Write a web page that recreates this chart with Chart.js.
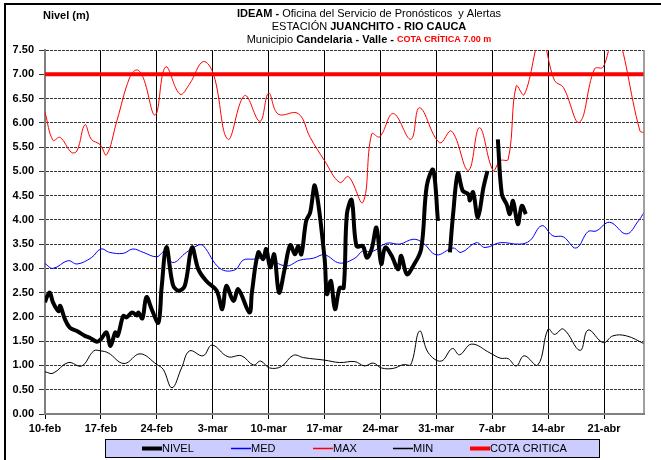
<!DOCTYPE html>
<html>
<head>
<meta charset="utf-8">
<script src="https://cdn.jsdelivr.net/npm/chart.js@4/dist/chart.umd.min.js"></script>
<style>
  html, body { margin: 0; padding: 0; background: #fff; }
  #wrap { width: 661px; height: 460px; }
</style>
</head>
<body>
<div id="wrap"><canvas id="nivel" width="661" height="460"></canvas></div>
<script>
// etiquetas del eje x (una por semana) y su posición en días desde el 10-feb
const tickLabels = ['10-feb', '17-feb', '24-feb', '3-mar', '10-mar', '17-mar', '24-mar', '31-mar', '7-abr', '14-abr', '21-abr'];
const tickDays = [0, 7, 14, 21, 28, 35, 42, 49, 56, 63, 70];
const diaFinal = 75;

// NIVEL observado (null = sin dato)
const nivelDias = [0, 0.2, 0.6, 1, 1.7, 1.9, 2.5, 3.1, 4, 5, 5.6, 6.5, 7, 7.7, 8.2, 8.8, 9.1, 9.8, 10.2, 10.9, 11.5, 11.7, 12.2, 12.7, 13.4, 14.2, 14.6, 15.2, 16, 16.7, 17.5, 18.4, 19.2, 20.2, 21.5, 22.2, 22.7, 23.6, 24.2, 25.6, 25.9, 26.7, 27.3, 27.7, 28.2, 28.7, 29.3, 30, 30.7, 31.3, 31.7, 32.1, 32.7, 33.2, 33.8, 35, 35.3, 35.8, 36.3, 36.9, 37.4, 37.8, 38.4, 39, 39.8, 40.3, 40.9, 41.5, 42.1, 42.6, 43.4, 44.2, 44.6, 45.3, 46.1, 47.1, 47.8, 48.6, 49.2, 50, 50.7, 51.1, 51.7, 52.3, 53, 53.2, 53.6, 54.2, 54.9, 55.4, 56, 56.7, 57.2, 57.8, 58.2, 58.6, 59.2, 59.7, 60.2];
const nivelValores = [2.30, 2.40, 2.50, 2.30, 2.12, 2.23, 1.95, 1.78, 1.71, 1.61, 1.57, 1.49, 1.54, 1.68, 1.40, 1.68, 1.61, 2.02, 1.99, 2.09, 2.03, 2.09, 1.97, 2.41, 2.14, 1.88, 2.60, 3.44, 2.67, 2.54, 2.64, 3.43, 2.98, 2.74, 2.54, 2.16, 2.64, 2.33, 2.57, 2.09, 2.50, 3.33, 3.19, 3.40, 3.02, 3.29, 2.50, 2.98, 3.48, 3.29, 3.46, 3.29, 3.98, 4.15, 4.70, 3.22, 2.47, 2.74, 2.16, 2.60, 2.60, 4.12, 4.41, 3.46, 3.46, 3.22, 3.40, 3.84, 3.09, 3.43, 3.26, 2.98, 3.26, 2.88, 3.05, 3.40, 4.70, 5.03, 3.98, null, 3.33, 4.12, 4.96, 4.60, 4.53, 4.40, 4.57, 4.05, 4.67, 5.01, null, 5.66, 4.53, 4.32, 4.12, 4.39, 3.91, 4.29, 4.12];

// MED
const medDias = [0, 1, 2.9, 4, 5.8, 7, 8.1, 9.8, 11, 12.3, 14, 15, 16, 17.7, 19.2, 19.8, 21.9, 23.8, 24.8, 26.1, 27.7, 30.2, 31.9, 33.6, 35, 36.9, 38.8, 39.8, 40.9, 42.8, 44.4, 46.1, 47.3, 49, 51.1, 52.1, 54, 55.1, 57, 59.4, 60.7, 62.2, 63.6, 64.9, 66.5, 68, 69, 70.7, 72.8, 74.3, 75];
const medValores = [3.10, 3.00, 3.16, 3.09, 3.22, 3.40, 3.33, 3.31, 3.40, 3.33, 3.24, 3.35, 3.12, 3.33, 3.48, 3.47, 3.00, 2.97, 3.17, 3.19, 3.21, 3.05, 3.17, 3.21, 3.28, 3.11, 3.21, 3.36, 3.34, 3.52, 3.50, 3.60, 3.53, 3.28, 3.42, 3.33, 3.53, 3.43, 3.53, 3.50, 3.57, 3.88, 3.67, 3.65, 3.42, 3.76, 3.77, 3.95, 3.71, 3.98, 4.15];

// MAX
const maxDias = [0, 1, 1.9, 3.3, 4, 5, 5.8, 6.9, 7.7, 9, 10.6, 11.5, 12.3, 13.8, 15.1, 16.9, 18.1, 19.8, 21.1, 22.9, 25, 26.9, 28, 29.2, 31.7, 33.2, 35, 36.9, 38, 39.8, 40.9, 41.9, 43.6, 45.8, 46.9, 49.4, 50.9, 53, 54.4, 56.1, 57, 58, 59, 60, 62.1, 63.8, 64.9, 66.9, 68.8, 69.9, 71.4, 74.5, 75];
const maxValores = [6.22, 5.64, 5.70, 5.39, 5.42, 5.96, 5.66, 5.55, 5.34, 6.04, 6.93, 7.09, 6.93, 6.16, 7.15, 6.59, 6.80, 7.26, 7.00, 5.66, 6.56, 6.03, 6.61, 6.18, 6.19, 5.70, 5.22, 4.77, 4.89, 4.36, 5.77, 5.71, 6.19, 5.66, 6.31, 5.59, 5.83, 5.02, 5.90, 5.02, 5.22, 5.25, 6.76, 6.58, 7.75, 6.87, 6.73, 6.01, 7.11, 7.15, 7.90, 5.83, 5.80];

// MIN
const minDias = [0, 1, 2.9, 4.6, 6.1, 7, 7.9, 9.9, 11.9, 14, 14.8, 15.9, 17.1, 18.1, 19.8, 20.9, 22.9, 24.6, 26.1, 27, 28.1, 29.6, 31.1, 32.4, 35, 36.9, 38.8, 40, 41.1, 42.1, 43.6, 44.9, 45.8, 46.9, 48, 49.6, 51, 51.9, 53.4, 55.7, 57, 58, 59, 60, 61.7, 63, 63.8, 64.9, 67, 68, 69.9, 71.1, 72.8, 75];
const minValores = [0.87, 0.84, 1.06, 0.99, 1.30, 1.30, 1.26, 1.04, 1.24, 1.02, 0.92, 0.54, 0.95, 1.30, 1.20, 1.42, 1.18, 1.20, 1.01, 1.09, 0.95, 0.98, 1.21, 1.16, 1.11, 1.06, 1.08, 0.99, 1.05, 0.95, 0.94, 1.02, 1.02, 1.71, 1.26, 1.09, 1.35, 1.22, 1.44, 1.26, 1.15, 1.14, 0.99, 1.20, 1.01, 1.75, 1.64, 1.75, 1.31, 1.73, 1.47, 1.61, 1.61, 1.45];

const cotaCritica = 7.00;

const pts = (dias, vals) => dias.map((x, i) => ({ x: x, y: vals[i] }));
const FONT = "'Liberation Sans', Arial, sans-serif";
Chart.defaults.font.family = FONT;
Chart.defaults.color = '#000';

// fondo + marco exterior
const marco = {
  id: 'marco',
  beforeDraw(chart) {
    const ctx = chart.ctx;
    ctx.save();
    ctx.fillStyle = '#fff';
    ctx.fillRect(0, 0, chart.width, chart.height);
    ctx.strokeStyle = '#000';
    ctx.lineWidth = 2;
    ctx.beginPath();
    ctx.moveTo(chart.width, 4);
    ctx.lineTo(5, 4);
    ctx.lineTo(5, chart.height);
    ctx.stroke();
    ctx.restore();
  }
};

// texto con partes en negrita / rojo, centrado
function runs(ctx, parts, cx, cy) {
  const f = p => (p.b ? 'bold ' : '') + (p.s || 11) + 'px ' + FONT;
  let w = 0;
  parts.forEach(p => { ctx.font = f(p); w += ctx.measureText(p.t).width; });
  let x = cx - w / 2;
  parts.forEach(p => {
    ctx.font = f(p);
    ctx.fillStyle = p.c || '#000';
    ctx.fillText(p.t, x, cy);
    x += ctx.measureText(p.t).width;
  });
}

const titulos = {
  id: 'titulos',
  afterDraw(chart) {
    const ctx = chart.ctx;
    const a = chart.chartArea;
    ctx.save();
    ctx.textBaseline = 'middle';
    ctx.textAlign = 'left';
    runs(ctx, [{ t: 'IDEAM - ', b: true }, { t: 'Oficina del Servicio de Pronósticos  y Alertas' }], 369, 14);
    runs(ctx, [{ t: 'ESTACIÓN ' }, { t: 'JUANCHITO - RIO CAUCA', b: true }], 369, 27);
    runs(ctx, [{ t: 'Municipio ' }, { t: 'Candelaria - Valle - ', b: true }, { t: 'COTA CRÍTICA 7.00 m', b: true, c: '#FF0000', s: 9 }], 369, 40);
    ctx.font = 'bold 11px ' + FONT;
    ctx.fillStyle = '#000';
    ctx.fillText('Nivel (m)', 43, 16);

    // borde derecho del área
    ctx.strokeStyle = '#808080';
    ctx.lineWidth = 1.5;
    ctx.beginPath();
    ctx.moveTo(a.right, a.top);
    ctx.lineTo(a.right, a.bottom);
    ctx.stroke();

    // leyenda
    ctx.fillStyle = '#CCCCFF';
    ctx.fillRect(105, 439, 494, 18);
    ctx.strokeStyle = '#000';
    ctx.lineWidth = 1;
    ctx.strokeRect(105.5, 439.5, 494, 18);
    const xs = [142, 231, 313, 393, 470];
    chart.data.datasets.forEach((ds, i) => {
      const lw = ds.borderWidth;
      ctx.strokeStyle = ds.borderColor;
      ctx.lineWidth = Math.max(lw, 1.5);
      ctx.beginPath();
      ctx.moveTo(xs[i], 448.5);
      ctx.lineTo(xs[i] + 20, 448.5);
      ctx.stroke();
      ctx.fillStyle = '#000';
      ctx.font = '11px ' + FONT;
      ctx.fillText(ds.label, xs[i] + 20, 449);
    });
    ctx.restore();
  }
};

new Chart(document.getElementById('nivel'), {
  type: 'line',
  data: {
    datasets: [
      { label: 'NIVEL', data: pts(nivelDias, nivelValores), borderColor: '#000', borderWidth: 4, tension: 0.35, spanGaps: false },
      { label: 'MED', data: pts(medDias, medValores), borderColor: '#0000FF', borderWidth: 1, tension: 0.4 },
      { label: 'MAX', data: pts(maxDias, maxValores), borderColor: '#FF0000', borderWidth: 1, tension: 0.4 },
      { label: 'MIN', data: pts(minDias, minValores), borderColor: '#000', borderWidth: 1, tension: 0.4 },
      { label: 'COTA CRITICA', data: [{ x: 0, y: cotaCritica }, { x: diaFinal, y: cotaCritica }], borderColor: '#FF0000', borderWidth: 4, tension: 0 }
    ]
  },
  options: {
    responsive: false,
    animation: false,
    devicePixelRatio: 1,
    elements: { point: { radius: 0 } },
    layout: { padding: { top: 50, right: 17, bottom: 16, left: 0 } },
    plugins: { legend: { display: false }, tooltip: { enabled: false } },
    scales: {
      x: {
        type: 'linear',
        min: 0,
        max: diaFinal,
        afterFit: s => { s.height = 30; },
        afterBuildTicks: s => { s.ticks = tickDays.map(v => ({ value: v })); },
        ticks: {
          autoSkip: false,
          maxRotation: 0,
          padding: 3,
          font: { size: 11, weight: 'bold' },
          callback: v => tickLabels[tickDays.indexOf(v)]
        },
        grid: { color: '#000', lineWidth: 1, tickLength: 5 },
        border: { color: '#808080', width: 2 }
      },
      y: {
        min: 0,
        max: 7.5,
        afterFit: s => { s.width = 45; },
        ticks: {
          stepSize: 0.5,
          padding: 5,
          font: { size: 11, weight: 'bold' },
          callback: v => v.toFixed(2)
        },
        grid: { color: '#333', lineWidth: 1, tickLength: 6 },
        border: { color: '#808080', width: 2, dash: [3, 1] }
      }
    }
  },
  plugins: [marco, titulos]
});
</script>
</body>
</html>
